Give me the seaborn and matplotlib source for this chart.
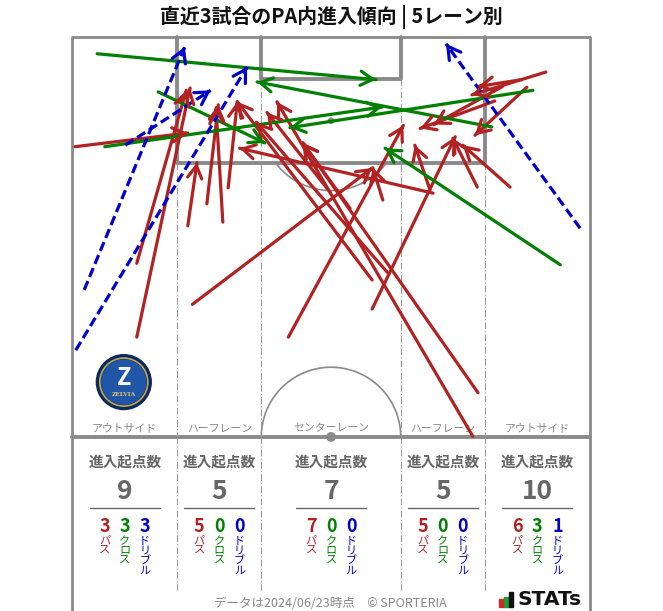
import numpy as np
import pandas as pd
import matplotlib
matplotlib.use('Agg')
from matplotlib import pyplot as plt
from matplotlib.patches import Circle, Rectangle
import seaborn as sns

sns.set_theme(style='white')
plt.rcParams['font.family'] = ['Noto Sans CJK JP', 'DejaVu Sans']

# ### data (pitch coords in metres, x across 0-68, y from goal line down to halfway 52.5)

lanes = ['アウトサイド', 'ハーフレーン', 'センターレーン', 'ハーフレーン', 'アウトサイド']
pass_counts = [3, 5, 7, 5, 6]
cross_counts = [3, 0, 0, 0, 3]
dribble_counts = [3, 0, 0, 0, 1]
kind_names = ['パス', 'クロス', 'ドリブル']

pass_x0 = [0.4, 8.5, 8.5, 15.2, 17.7, 19.8, 20.5, 15.8, 28.4, 39.4, 41.4, 39.4, 40.8, 33.9, 36.5,
           52.6, 53.3, 53.2, 47.0, 47.4, 62.2, 59.7, 57.5, 55.5, 59.0, 56.5]
pass_y0 = [14.4, 29.7, 39.4, 24.8, 21.9, 24.3, 19.8, 35.1, 39.4, 31.9, 30.9, 35.7, 21.4, 20.4, 22.5,
           52.4, 46.7, 19.7, 20.1, 20.5, 4.6, 6.6, 19.7, 8.4, 5.6, 6.5]
pass_x1 = [15.2, 15.0, 15.5, 16.4, 19.2, 18.9, 21.7, 39.4, 43.5, 21.7, 24.2, 50.3, 39.5, 25.6, 30.3,
           26.9, 30.3, 50.0, 45.0, 22.0, 52.5, 52.9, 51.3, 45.7, 53.3, 47.5]
pass_y1 = [12.6, 7.0, 6.7, 16.5, 8.9, 9.3, 8.5, 17.2, 11.6, 8.5, 11.2, 13.1, 17.2, 9.9, 13.9,
           8.5, 13.9, 13.3, 14.2, 14.6, 7.6, 12.9, 14.2, 12.0, 6.5, 11.5]

cross_x0 = [3.3, 11.3, 4.3, 64.1, 60.5, 55.1]
cross_y0 = [2.2, 7.2, 14.4, 29.9, 7.0, 11.8]
cross_x1 = [39.9, 25.3, 40.7, 41.1, 28.6, 24.3]
cross_y1 = [5.6, 13.9, 9.2, 14.6, 11.9, 5.9]

drib_x0 = [1.6, 0.5, 7.0, 66.7]
drib_y0 = [33.2, 41.1, 14.2, 25.1]
drib_x1 = [14.8, 23.0, 18.2, 49.1]
drib_y1 = [1.3, 3.9, 7.0, 0.9]

colors = {'パス': '#b22222', 'クロス': '#008000', 'ドリブル': '#0000cd'}
grey = '#8a8a8a'

entries = [('パス', pass_x0, pass_y0, pass_x1, pass_y1),
           ('クロス', cross_x0, cross_y0, cross_x1, cross_y1),
           ('ドリブル', drib_x0, drib_y0, drib_x1, drib_y1)]

rows = []
seg = 0
for kind, xs0, ys0, xs1, ys1 in entries:
    for a, b, c, d in zip(xs0, ys0, xs1, ys1):
        rows.append([seg, kind, a, b])
        rows.append([seg, kind, c, d])
        seg += 1
df = pd.DataFrame(rows, columns=['seg', 'kind', 'x', 'y'])

# ### figure: 1 data unit = 7.618 px
scale = 7.618
fig = plt.figure(figsize=(6.63, 6.11), dpi=100)
ax = fig.add_axes([0, 0, 1, 1])
ax.set_xlim(-72 / scale, (663 - 72) / scale)
ax.set_ylim((611 - 37) / scale, -37 / scale)
ax.axis('off')

# pitch
lw_thin = 2.0
lw_thick = 2.8
ax.plot([0, 68], [0, 0], color=grey, lw=lw_thin, solid_capstyle='butt')
ax.plot([0, 0], [0, 90], color=grey, lw=lw_thin)
ax.plot([68, 68], [0, 90], color=grey, lw=lw_thin)
ax.plot([0, 68], [52.5, 52.5], color=grey, lw=lw_thick)
ax.plot([13.84, 13.84, 54.16, 54.16], [0, 16.5, 16.5, 0], color=grey, lw=lw_thick)
ax.plot([24.84, 24.84, 43.16, 43.16], [0, 5.5, 5.5, 0], color=grey, lw=lw_thick)
t = np.linspace(np.arcsin(5.5 / 9.15), np.pi - np.arcsin(5.5 / 9.15), 60)
ax.plot(34 + 9.15 * np.cos(t), 11 + 9.15 * np.sin(t), color=grey, lw=1.2)
t = np.linspace(0, np.pi, 100)
ax.plot(34 + 9.15 * np.cos(t), 52.5 - 9.15 * np.sin(t), color=grey, lw=1.2)
ax.add_patch(Circle((34, 11), 0.35, color=grey, zorder=2))
ax.add_patch(Circle((34, 52.5), 0.55, color=grey, zorder=3))

# lane dividers
dd = (0, (6, 2, 1, 2))
for lx, top in [(13.84, 16.5), (24.84, 5.5), (43.16, 5.5), (54.16, 16.5)]:
    ax.plot([lx, lx], [top, 52.5], color='#9a9a9a', lw=0.8, ls=dd)
    ax.plot([lx, lx], [52.5, 72.6], color='#9a9a9a', lw=0.8, ls=dd)

lane_cx = [6.92, 19.34, 34, 48.66, 61.08]
for cx, name in zip(lane_cx, lanes):
    ax.text(cx, 51.4, name, ha='center', va='center', fontsize=7.8, color='#888888')

# entries
sns.lineplot(data=df, x='x', y='y', units='seg', estimator=None, sort=False,
             hue='kind', style='kind', palette=colors,
             dashes={'パス': '', 'クロス': '', 'ドリブル': (3, 1.4)},
             lw=2.3, legend=False, ax=ax, zorder=4)
ax.set_xlabel('')
ax.set_ylabel('')
for kind, xs0, ys0, xs1, ys1 in entries:
    for a, b, c, d in zip(xs0, ys0, xs1, ys1):
        v = np.array([c - a, d - b])
        v = v / np.hypot(*v)
        ax.annotate('', xy=(c, d), xytext=(c - v[0] * 0.3, d - v[1] * 0.3),
                    arrowprops=dict(arrowstyle='->,head_length=0.55,head_width=0.32',
                                    color=colors[kind], lw=2.3, shrinkA=0, shrinkB=0,
                                    mutation_scale=16), zorder=5)

# club emblem (simplified)
ex, ey = 6.8, 45.3
ax.add_patch(Circle((ex, ey), 3.6, color='#0b2a5e', zorder=3))
ax.add_patch(Circle((ex, ey), 3.15, fill=False, ec='#caa64e', lw=1.2, zorder=3))
ax.add_patch(Circle((ex, ey), 2.9, color='#1f56a8', zorder=3))
ax.text(ex, ey - 0.6, 'Z', ha='center', va='center', fontsize=17, fontweight='bold',
        color='white', style='italic', zorder=4)
ax.text(ex, ey + 1.6, 'ZELVIA', ha='center', va='center', fontsize=4.2, fontweight='bold',
        color='#e6c66a', family='DejaVu Serif', zorder=4)

# stats boxes
for i, cx in enumerate(lane_cx):
    total = pass_counts[i] + cross_counts[i] + dribble_counts[i]
    ax.text(cx, 55.8, '進入起点数', ha='center', va='center', fontsize=10.5,
            fontweight='bold', color='#666666')
    ax.text(cx, 59.6, str(total), ha='center', va='center', fontsize=19,
            fontweight='bold', color='#666666')
    ax.plot([cx - 4.6, cx + 4.6], [61.8, 61.8], color='#666666', lw=1.0)
    for j, (val, kind) in enumerate(zip([pass_counts[i], cross_counts[i], dribble_counts[i]],
                                        kind_names)):
        kx = cx + (j - 1) * 2.63
        ax.text(kx, 64.2, str(val), ha='center', va='center', fontsize=13,
                fontweight='bold', color=colors[kind])
        ax.text(kx, 65.5, '\n'.join(kind), ha='center', va='top', fontsize=8,
                color=colors[kind], linespacing=1.0)

# footer
ax.text(33.9, 74.3, 'データは2024/06/23時点　© SPORTERIA', ha='center', va='center',
        fontsize=9, color='#888888')
for bx, bh, bc in [(56.05, 1.05, '#d7262b'), (56.7, 1.35, '#1f9b3a'), (57.35, 2.0, '#111111')]:
    ax.add_patch(Rectangle((bx, 74.8 - bh), 0.6, bh, color=bc, zorder=3))
ax.text(58.5, 73.9, 'STATs', ha='left', va='center', fontsize=14.5, fontweight='bold',
        color='#111111', family='DejaVu Sans')

fig.text(0.5, 1 - 17 / 611, '直近3試合のPA内進入傾向 | 5レーン別', ha='center', va='center',
         fontsize=14.3, fontweight='bold', color='#111111')

fig.savefig('out.png', dpi=100, facecolor='white')
